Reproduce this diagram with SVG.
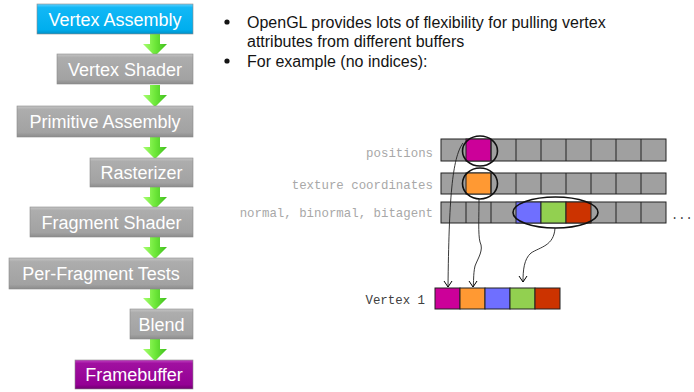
<svg xmlns="http://www.w3.org/2000/svg" width="694" height="392" viewBox="0 0 694 392">
  <defs>
    <linearGradient id="gGray" x1="0" y1="0" x2="0" y2="1">
      <stop offset="0" stop-color="#c4c4c4"/>
      <stop offset="0.12" stop-color="#adadad"/>
      <stop offset="0.85" stop-color="#a2a2a2"/>
      <stop offset="1" stop-color="#8c8c8c"/>
    </linearGradient>
    <linearGradient id="gBlue" x1="0" y1="0" x2="0" y2="1">
      <stop offset="0" stop-color="#5fd0ff"/>
      <stop offset="0.12" stop-color="#12b8f6"/>
      <stop offset="0.85" stop-color="#00aeee"/>
      <stop offset="1" stop-color="#0090c8"/>
    </linearGradient>
    <linearGradient id="gPurple" x1="0" y1="0" x2="0" y2="1">
      <stop offset="0" stop-color="#c040c0"/>
      <stop offset="0.12" stop-color="#a010a0"/>
      <stop offset="0.85" stop-color="#940094"/>
      <stop offset="1" stop-color="#700070"/>
    </linearGradient>
    <linearGradient id="gGreen" x1="0" y1="0" x2="1" y2="0">
      <stop offset="0" stop-color="#a8ff70"/>
      <stop offset="0.5" stop-color="#6ee83a"/>
      <stop offset="1" stop-color="#3fbf1c"/>
    </linearGradient>
    <!-- block arrow between pipeline stages -->
    <symbol id="flow" overflow="visible">
      <path d="M-5,0 H5 V10 H12 L0,22 L-12,10 H-5 Z" fill="url(#gGreen)"/>
    </symbol>
    <marker id="openDown" viewBox="0 0 10 10" refX="5" refY="9" markerWidth="10" markerHeight="10" markerUnits="userSpaceOnUse">
      <path d="M1,3 L5,9 L9,3" fill="none" stroke="#000" stroke-width="1"/>
    </marker>
  </defs>
  <style>
    .stage rect { stroke: #8a8a8a; stroke-width: 0.6; }
    .stage text { font-family: "Liberation Sans", Arial, sans-serif; font-size: 18px; fill: #ffffff; text-anchor: middle; }
    .bullet { font-family: "Liberation Sans", Arial, sans-serif; font-size: 16px; fill: #141414; }
    .lbl { font-family: "Liberation Mono", "Courier New", monospace; font-size: 12.4px; fill: #a8a8a8; text-anchor: end; }
    .vlbl { font-family: "Liberation Mono", "Courier New", monospace; font-size: 12.4px; fill: #404040; text-anchor: end; }
    .cell { fill: #a0a0a0; stroke: #222; stroke-width: 1; }
    .sel { fill: none; stroke: #111; stroke-width: 1.6; }
    .link { fill: none; stroke: #222; stroke-width: 0.9; }
  </style>

  <!-- pipeline -->
  <g id="pipeline-arrows">
    <use href="#flow" x="155" y="34"/>
    <use href="#flow" x="155" y="85"/>
    <use href="#flow" x="155" y="137"/>
    <use href="#flow" x="155" y="187"/>
    <use href="#flow" x="155" y="237"/>
    <use href="#flow" x="155" y="288"/>
    <use href="#flow" x="155" y="339"/>
  </g>
  <g id="vertex-assembly" class="stage">
    <rect x="37" y="4" width="156" height="30" fill="url(#gBlue)" stroke="#0a8ac0"/>
    <text x="115" y="26">Vertex Assembly</text>
  </g>
  <g id="vertex-shader" class="stage">
    <rect x="57" y="54" width="136" height="30" fill="url(#gGray)"/>
    <text x="125" y="76">Vertex Shader</text>
  </g>
  <g id="primitive-assembly" class="stage">
    <rect x="17" y="106" width="176" height="31" fill="url(#gGray)"/>
    <text x="105" y="128">Primitive Assembly</text>
  </g>
  <g id="rasterizer" class="stage">
    <rect x="90" y="158" width="103" height="29" fill="url(#gGray)"/>
    <text x="141.5" y="179">Rasterizer</text>
  </g>
  <g id="fragment-shader" class="stage">
    <rect x="30" y="207" width="163" height="30" fill="url(#gGray)"/>
    <text x="111.5" y="229">Fragment Shader</text>
  </g>
  <g id="per-fragment-tests" class="stage">
    <rect x="9" y="258" width="184" height="31" fill="url(#gGray)"/>
    <text x="101" y="280">Per-Fragment Tests</text>
  </g>
  <g id="blend" class="stage">
    <rect x="130" y="309" width="63" height="30" fill="url(#gGray)"/>
    <text x="161.5" y="331">Blend</text>
  </g>
  <g id="framebuffer" class="stage">
    <rect x="75" y="360" width="118" height="29" fill="url(#gPurple)" stroke="#600060"/>
    <text x="134" y="381">Framebuffer</text>
  </g>

  <!-- bullets -->
  <g id="bullets" class="bullet">
    <circle cx="227" cy="22" r="2.6" fill="#141414"/>
    <text x="247" y="28">OpenGL provides lots of flexibility for pulling vertex</text>
    <text x="247" y="47">attributes from different buffers</text>
    <circle cx="227" cy="61" r="2.6" fill="#141414"/>
    <text x="247" y="67">For example (no indices):</text>
  </g>

  <!-- attribute buffers -->
  <g id="positions">
    <text class="lbl" x="433" y="157">positions</text>
    <rect class="cell" x="441" y="139" width="225" height="22"/>
    <rect x="466" y="139" width="25" height="22" fill="#cc0099" stroke="#222"/>
    <path d="M491,139 V161 M516,139 V161 M541,139 V161 M566,139 V161 M591,139 V161 M616,139 V161 M641,139 V161" stroke="#222" stroke-width="1"/>
  </g>
  <g id="texcoords">
    <text class="lbl" x="433" y="189">texture coordinates</text>
    <rect class="cell" x="441" y="173" width="225" height="21"/>
    <rect x="466" y="173" width="25" height="21" fill="#ff9933" stroke="#222"/>
    <path d="M491,173 V194 M516,173 V194 M541,173 V194 M566,173 V194 M591,173 V194 M616,173 V194 M641,173 V194" stroke="#222" stroke-width="1"/>
  </g>
  <g id="tangent-frame">
    <text class="lbl" x="433" y="217">normal, binormal, bitagent</text>
    <rect class="cell" x="441" y="202" width="225" height="21"/>
    <rect x="516" y="202" width="25" height="21" fill="#6f6fff" stroke="#222"/>
    <rect x="541" y="202" width="25" height="21" fill="#92d050" stroke="#222"/>
    <rect x="566" y="202" width="25" height="21" fill="#cc3300" stroke="#222"/>
    <path d="M466,202 V223 M491,202 V223 M616,202 V223 M641,202 V223" stroke="#222" stroke-width="1"/>
    <text x="671" y="219" font-family="Liberation Mono, monospace" font-size="12" fill="#404040">...</text>
  </g>

  <!-- assembled vertex -->
  <g id="vertex-1">
    <text class="vlbl" x="425" y="304">Vertex 1</text>
    <rect x="435" y="288" width="25" height="21" fill="#cc0099" stroke="#222"/>
    <rect x="460" y="288" width="25" height="21" fill="#ff9933" stroke="#222"/>
    <rect x="485" y="288" width="25" height="21" fill="#6f6fff" stroke="#222"/>
    <rect x="510" y="288" width="25" height="21" fill="#92d050" stroke="#222"/>
    <rect x="535" y="288" width="25" height="21" fill="#cc3300" stroke="#222"/>
  </g>

  <!-- selection ellipses and fetch connectors -->
  <g id="connectors">
    <ellipse class="sel" cx="480" cy="151" rx="17.5" ry="15"/>
    <ellipse class="sel" cx="480" cy="183.5" rx="17.5" ry="15.5"/>
    <ellipse class="sel" cx="555.5" cy="212.5" rx="42.5" ry="15.5"/>
    <path class="link" d="M463,143 C452,158 449,200 448,287" marker-end="url(#openDown)"/>
    <path class="link" d="M479,199 C479,215 478,235 480,242 C484,250 478,258 475,266 C473,275 474,282 473,287" marker-end="url(#openDown)"/>
    <path class="link" d="M555,228 C554,246 540,247 531,253 C524,259 523,270 523,282" marker-end="url(#openDown)"/>
  </g>
</svg>
